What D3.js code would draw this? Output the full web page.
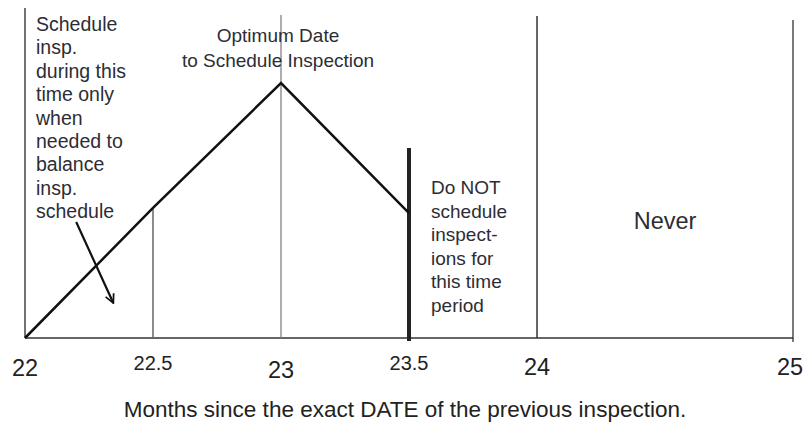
<!DOCTYPE html>
<meta charset="utf-8">
<style>
body { margin: 0; background: #fff; }
text { font-family: "Liberation Sans", Arial, sans-serif; }
</style>
<body>
<div id="plotHere"></div>
<script src="https://cdn.jsdelivr.net/npm/d3@7"></script>
<script>
// ---- data ----
const tickValues = [22, 22.5, 23, 23.5, 24, 25];
const tickLabels = ["22", "22.5", "23", "23.5", "24", "25"];
const tickBig = [true, false, true, false, true, true];
const curveMonths = [22, 22.5, 23, 23.5];
const curveLevel = [0, 0.51, 1, 0.49];
// vertical dividers: month, top level, width, colour
const divMonths = [22, 22.5, 23, 23.5, 24, 25];
const divTops = [1.294, 0.51, 1.267, 0.745, 1.263, 1.247];
const divWidths = [1.5, 1.5, 1.2, 4, 1.5, 1.2];
const divColors = ["#444", "#666", "#777", "#222", "#333", "#222"];
const leftNote = ["Schedule", "insp.", "during this", "time only", "when", "needed to", "balance", "insp.", "schedule"];
const optNote = ["Optimum Date", "to Schedule Inspection"];
const doNotNote = ["Do NOT", "schedule", "inspect-", "ions for", "this time", "period"];
const arrowFrom = [22.2, 0.455];
const arrowTo = [22.345, 0.137];
const xlabel = "Months since the exact DATE of the previous inspection.";

const W = 806, H = 424;
const x = d3.scaleLinear().domain([22, 25]).range([25, 793]);
const y = d3.scaleLinear().domain([0, 1]).range([338, 83]);

const svg = d3.select("#plotHere").append("svg")
    .attr("width", W).attr("height", H);

svg.append("defs").append("marker")
    .attr("id", "arr").attr("viewBox", "0 0 10 10")
    .attr("refX", 9).attr("refY", 5)
    .attr("markerWidth", 5).attr("markerHeight", 5)
    .attr("orient", "auto")
  .append("path")
    .attr("d", "M1,1 L9,5 L1,9")
    .attr("fill", "none").attr("stroke", "#111").attr("stroke-width", 1.6);

// baseline
svg.append("line")
    .attr("x1", x(22)).attr("x2", x(25))
    .attr("y1", y(0)).attr("y2", y(0))
    .attr("stroke", "#333").attr("stroke-width", 1.5);

// verticals
divMonths.forEach(function(m, i) {
  svg.append("line")
      .attr("x1", x(m)).attr("x2", x(m))
      .attr("y1", y(divTops[i]))
      .attr("y2", i == 3 ? y(0) + 3 : (i == 5 ? y(0) + 4 : y(0)))
      .attr("stroke", divColors[i])
      .attr("stroke-width", divWidths[i]);
});

// tick labels
tickValues.forEach(function(v, i) {
  svg.append("text")
      .attr("x", x(v) + (i == 5 ? -3 : 0))
      .attr("y", tickBig[i] ? (i == 2 ? 378 : (i == 0 ? 376 : 375)) : 370)
      .attr("text-anchor", "middle")
      .style("font-size", tickBig[i] ? "23.5px" : "20px")
      .style("fill", "#222")
      .text(tickLabels[i]);
});

// the schedule curve
const valueline = d3.line()
    .x(function(d, i) { return x(curveMonths[i]); })
    .y(function(d) { return y(d); });
svg.append("path")
    .datum(curveLevel)
    .attr("d", valueline)
    .attr("fill", "none")
    .attr("stroke", "#111")
    .attr("stroke-width", 2.5);

// arrow
svg.append("line")
    .attr("x1", x(arrowFrom[0])).attr("y1", y(arrowFrom[1]))
    .attr("x2", x(arrowTo[0])).attr("y2", y(arrowTo[1]))
    .attr("stroke", "#111").attr("stroke-width", 2.2)
    .attr("marker-end", "url(#arr)");

// notes
function block(lines, xx, y0, dy, size, anchor) {
  const t = svg.append("text")
      .attr("text-anchor", anchor)
      .style("font-size", size)
      .style("fill", "#2d2d35");
  lines.forEach(function(s, i) {
    t.append("tspan").attr("x", xx).attr("y", y0 + i * dy).text(s);
  });
}
block(leftNote, 36, 31, 23.4, "19.5px", "start");
block(optNote, 278, 42, 25, "19px", "middle");
block(doNotNote, 431, 194, 23.5, "19px", "start");
block(["Never"], 665, 229, 0, "23.5px", "middle");

svg.append("text")
    .attr("x", 405).attr("y", 417)
    .attr("text-anchor", "middle")
    .style("font-size", "22.5px")
    .style("fill", "#222")
    .text(xlabel);
</script>
</body>
